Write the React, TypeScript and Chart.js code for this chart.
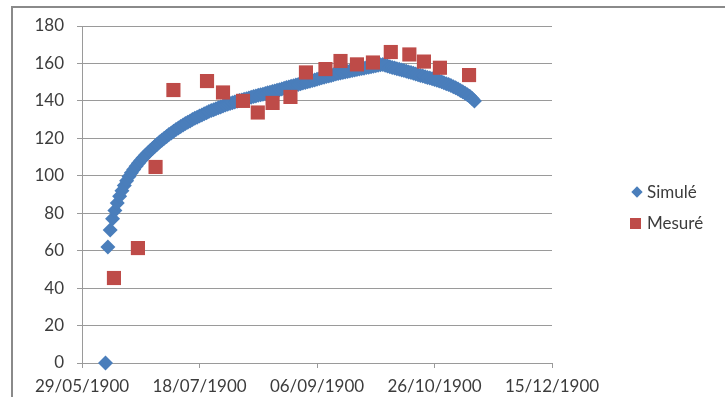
import React, { useEffect, useRef } from 'react';
import { Chart, registerables } from 'chart.js';

Chart.register(...registerables);

// X axis: Excel serial day numbers (1900 date system), shown as dd/mm/yyyy
const xTickValues = [150, 200, 250, 300, 350];
const xTickLabels = ['29/05/1900', '18/07/1900', '06/09/1900', '26/10/1900', '15/12/1900'];
const yMin = 0;
const yMax = 180;
const yStep = 20;

const seriesNames = ['Simulé', 'Mesuré'];

// Simulated series: one point per day, starting at day simStartDay
const simStartDay = 160;
const simValues = [
  0, 62, 71, 77, 81.5, 85.5, 89, 92, 94.8, 97.3,
  99.6, 101.6, 103.4, 105.1, 106.7, 108.2, 109.6, 110.9, 112.2, 113.4,
  114.6, 115.8, 116.9, 118.0, 119.0, 120.0, 121.0, 122.0, 122.9, 123.8,
  124.7, 125.5, 126.3, 127.1, 127.9, 128.6, 129.3, 130.0, 130.7, 131.3,
  131.9, 132.5, 133.1, 133.7, 134.3, 134.8, 135.3, 135.8, 136.3, 136.8,
  137.3, 137.8, 138.2, 138.6, 139.0, 139.4, 139.8, 140.2, 140.5, 140.9,
  141.2, 141.6, 141.9, 142.3, 142.6, 143.0, 143.3, 143.6, 144.0, 144.3,
  144.6, 145.0, 145.3, 145.7, 146.0, 146.4, 146.7, 147.1, 147.4, 147.8,
  148.1, 148.5, 148.8, 149.2, 149.5, 149.8, 150.2, 150.5, 150.9, 151.2,
  151.6, 151.9, 152.3, 152.6, 153.0, 153.3, 153.6, 154.0, 154.3, 154.6,
  154.9, 155.1, 155.4, 155.7, 155.9, 156.2, 156.5, 156.7, 157.0, 157.3,
  157.5, 157.8, 158.0, 158.3, 158.5, 158.8, 159.0, 159.3, 159.5, 159.1,
  158.7, 158.3, 157.9, 157.6, 157.2, 156.9, 156.5, 156.2, 155.8, 155.4,
  155.1, 154.7, 154.4, 154.0, 153.6, 153.3, 152.9, 152.5, 152.2, 151.8,
  151.4, 151.0, 150.6, 150.2, 149.7, 149.2, 148.7, 148.2, 147.6, 147.0,
  146.3, 145.6, 144.9, 144.1, 143.3, 142.5, 141.3, 140.0,
];

// Measured series
const mesDays = [163.6, 173.8, 181.3, 188.9, 203.2, 210, 218.5, 224.8, 231.1, 238.7, 245.3, 253.6, 260, 267, 273.8, 281.4, 289.3, 295.5, 302.3, 314.7];
const mesValues = [45.4, 61.4, 104.7, 145.8, 150.6, 144.5, 140, 133.8, 138.9, 142.1, 155.2, 157, 161.3, 159.5, 160.5, 166.1, 164.8, 161, 157.7, 153.8];

const BLUE = '#4a7ebb';
const RED = '#be4b48';
const TEXT = '#3c3c3c';
const GRID = '#9a9a9a';
const FONT_FAMILY = 'Lato, "Open Sans", sans-serif';

export default function App() {
  const canvasRef = useRef<HTMLCanvasElement | null>(null);

  useEffect(() => {
    if (!canvasRef.current) return;
    const simData = simValues.map((v, i) => ({ x: simStartDay + i, y: v }));
    const mesData = mesDays.map((d, i) => ({ x: d, y: mesValues[i] }));
    const font = { family: FONT_FAMILY, size: 17 };

    const chart = new Chart(canvasRef.current, {
      type: 'scatter',
      data: {
        datasets: [
          {
            label: seriesNames[0],
            data: simData,
            pointStyle: 'rectRot',
            pointRadius: 7.5,
            backgroundColor: BLUE,
            borderColor: BLUE,
            borderWidth: 0,
            showLine: false,
            clip: false,
            order: 1,
          },
          {
            label: seriesNames[1],
            data: mesData,
            pointStyle: 'rect',
            pointRadius: 10,
            backgroundColor: RED,
            borderColor: RED,
            borderWidth: 0,
            showLine: false,
            clip: false,
            order: 0,
          },
        ],
      },
      options: {
        animation: false,
        responsive: false,
        maintainAspectRatio: false,
        layout: { padding: { left: 0, right: 173, top: 26, bottom: 0 } },
        plugins: { legend: { display: false }, tooltip: { enabled: false } },
        scales: {
          x: {
            type: 'linear',
            min: xTickValues[0],
            max: xTickValues[xTickValues.length - 1],
            afterBuildTicks: (scale: any) => {
              scale.ticks = xTickValues.map((v) => ({ value: v }));
            },
            afterFit: (scale: any) => {
              scale.height = 34;
            },
            ticks: {
              autoSkip: false,
              maxRotation: 0,
              padding: 8,
              color: TEXT,
              font,
              callback: (v: any) => {
                const idx = xTickValues.indexOf(Number(v));
                return idx >= 0 ? xTickLabels[idx] : '';
              },
            },
            grid: { display: true, drawOnChartArea: false, drawTicks: true, tickLength: 5, color: GRID, lineWidth: 1 },
            border: { display: true, color: GRID, width: 1 },
          },
          y: {
            min: yMin,
            max: yMax,
            afterFit: (scale: any) => {
              scale.width = 82;
            },
            ticks: { stepSize: yStep, padding: 13, color: TEXT, font },
            grid: { display: true, drawOnChartArea: true, drawTicks: true, tickLength: 5, color: GRID, lineWidth: 1 },
            border: { display: true, color: GRID, width: 1 },
          },
        },
      },
    });
    return () => chart.destroy();
  }, []);

  const legendText: React.CSSProperties = {
    position: 'absolute',
    fontFamily: FONT_FAMILY,
    fontSize: 17,
    color: TEXT,
    lineHeight: '20px',
    whiteSpace: 'nowrap',
  };

  return (
    <div style={{ position: 'fixed', left: 0, top: 0, width: 725, height: 397, background: '#fff', overflow: 'hidden' }}>
      <canvas ref={canvasRef} width={725} height={397} style={{ position: 'absolute', left: 0, top: 0, width: 725, height: 397 }} />
      <div style={{ position: 'absolute', left: 11, top: 6, width: 720, height: 400, borderLeft: '2px solid #8a8a8a', borderTop: '2px solid #8a8a8a', boxSizing: 'border-box' }} />
      <div style={{ position: 'absolute', left: 633, top: 188, width: 8, height: 8, background: BLUE, transform: 'rotate(45deg)' }} />
      <div style={{ ...legendText, left: 647, top: 182 }}>{seriesNames[0]}</div>
      <div style={{ position: 'absolute', left: 630, top: 218, width: 11, height: 11, background: RED }} />
      <div style={{ ...legendText, left: 647, top: 213 }}>{seriesNames[1]}</div>
    </div>
  );
}
